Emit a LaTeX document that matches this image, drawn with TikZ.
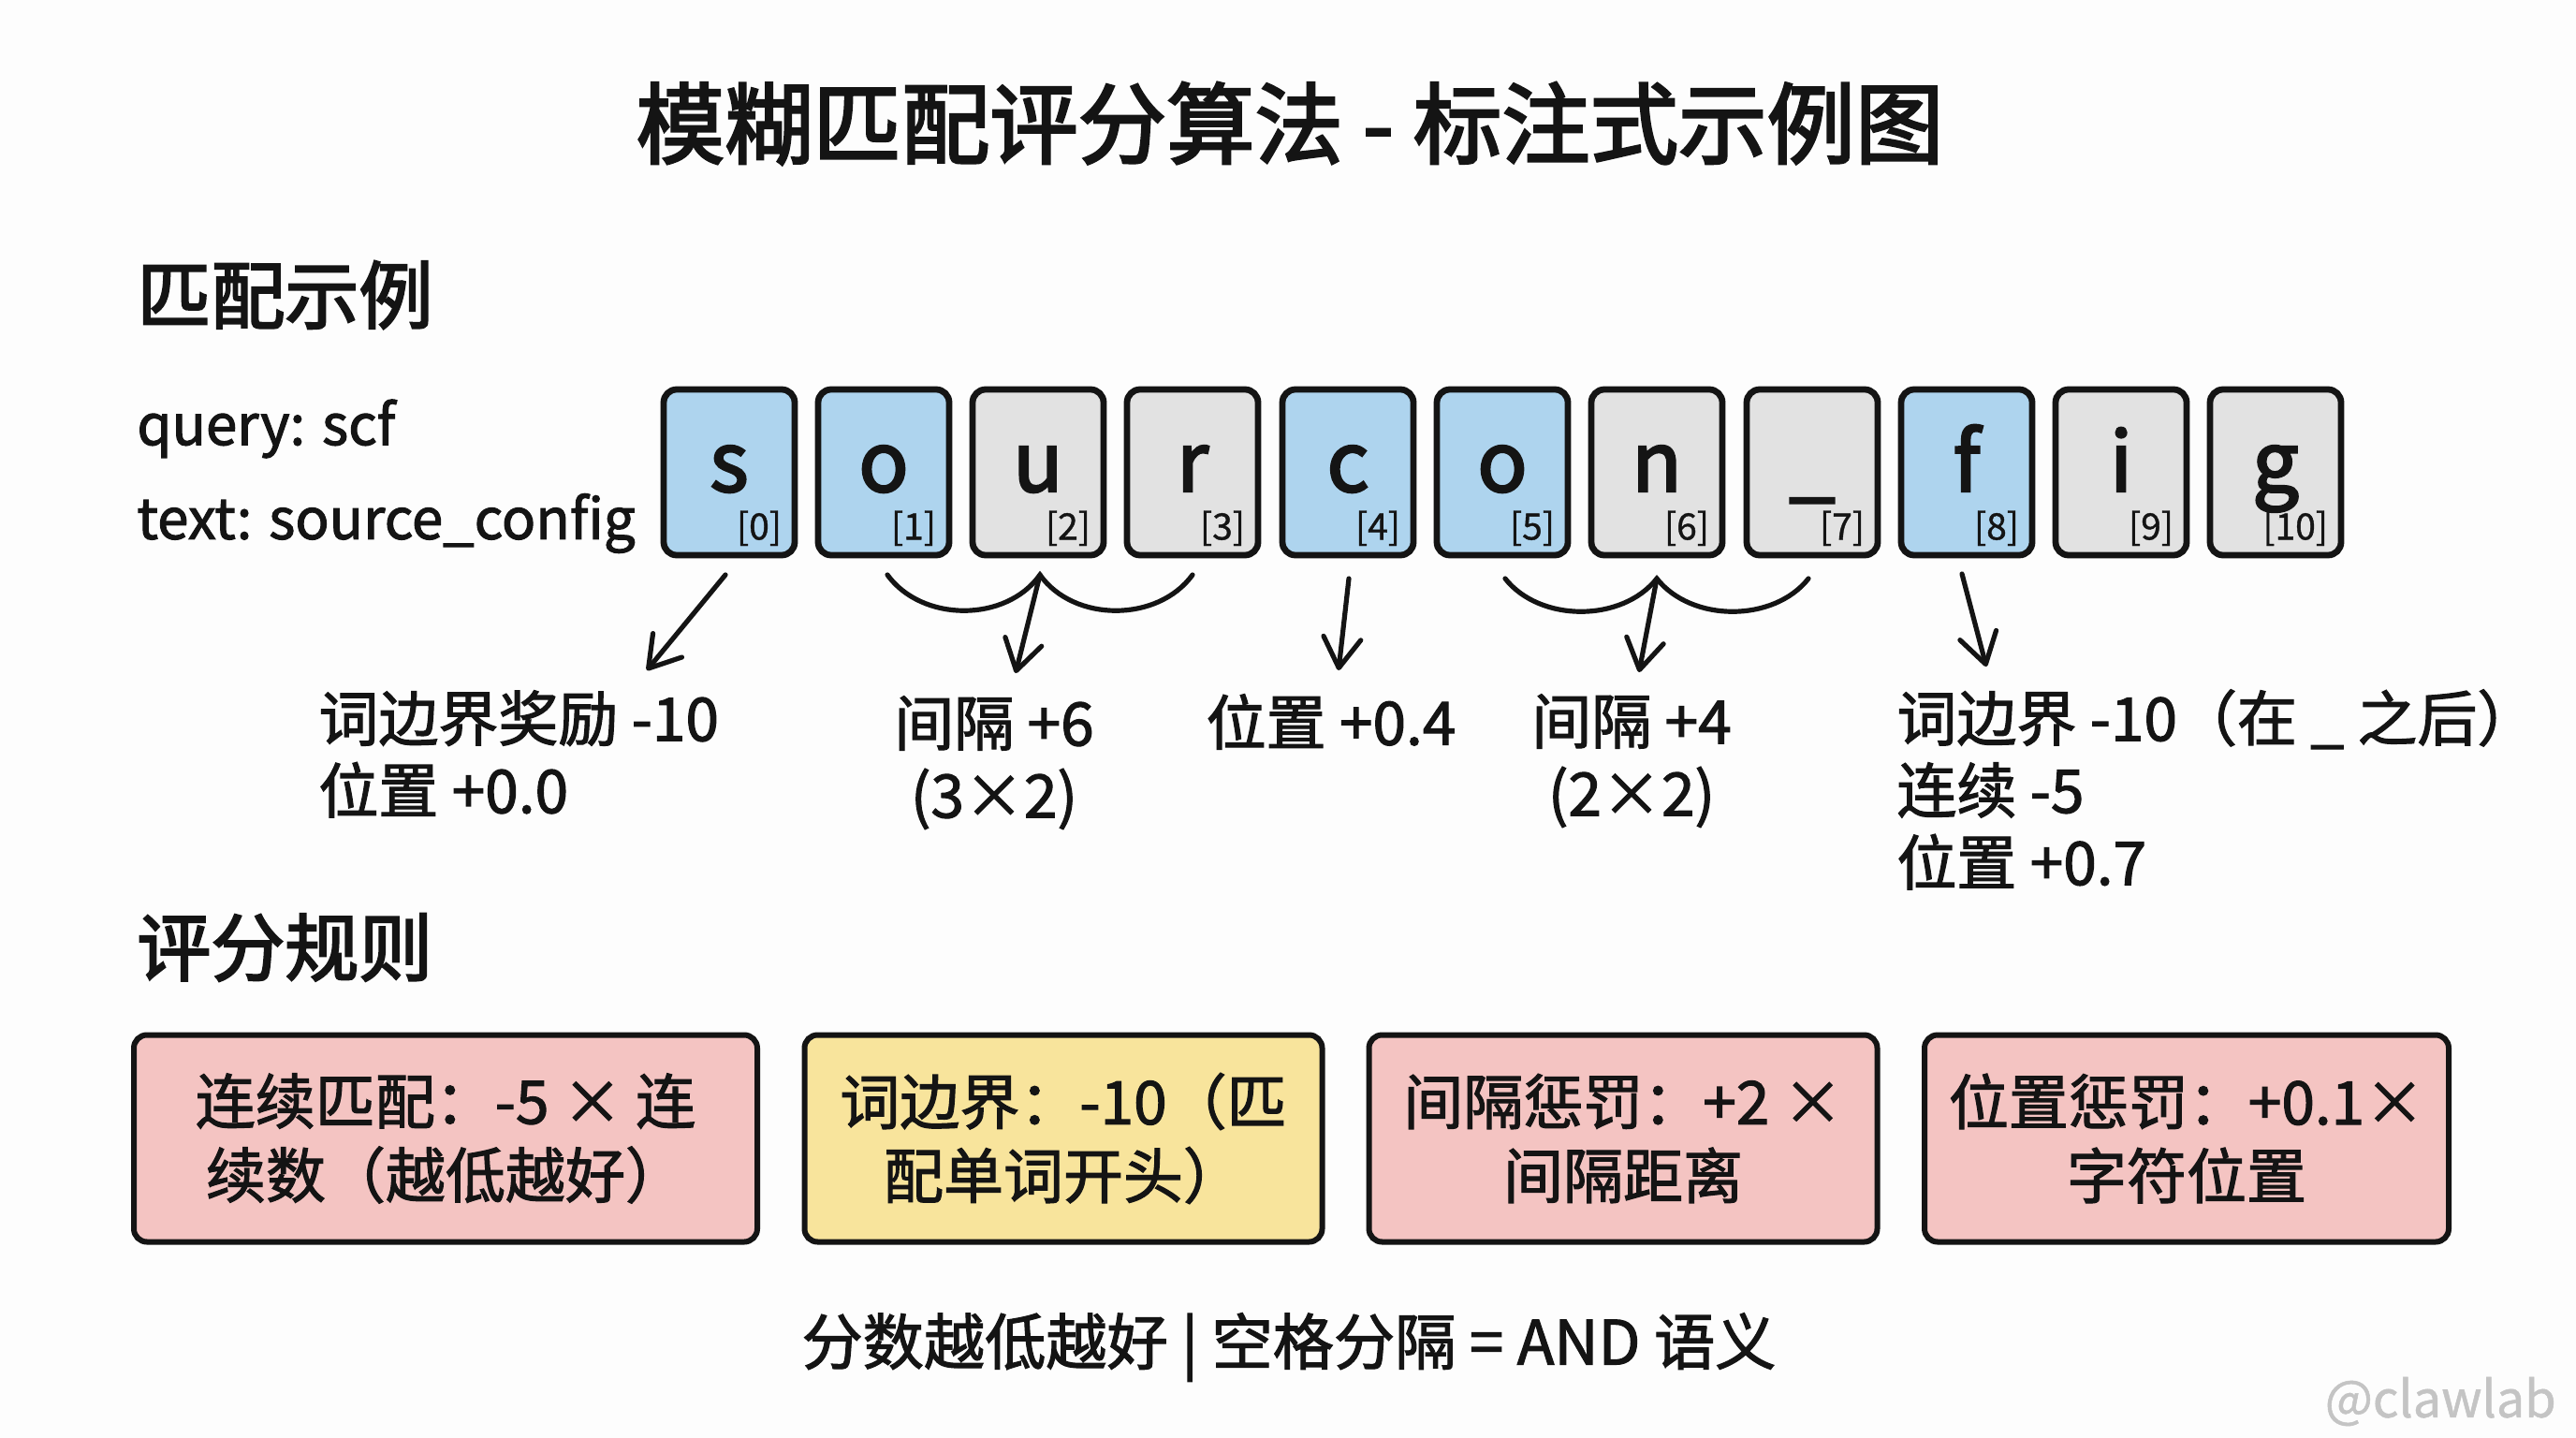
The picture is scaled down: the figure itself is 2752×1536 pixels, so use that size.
\documentclass[tikz,border=0pt]{standalone}
\usepackage{fontspec}
\usetikzlibrary{arrows.meta}
\setmainfont{Noto Sans CJK SC}[FakeBold=1.8]
\newfontfamily\titlefont{Noto Sans CJK SC}[FakeBold=2.8]
\newfontfamily\plainfont{Noto Sans CJK SC}[FakeBold=1.0]
\definecolor{bgc}{HTML}{FDFDFD}
\definecolor{inkc}{HTML}{141414}
\definecolor{bluec}{HTML}{AED4EE}
\definecolor{grayc}{HTML}{E2E2E2}
\definecolor{pinkc}{HTML}{F4C4C2}
\definecolor{yellowc}{HTML}{F8E49C}
\definecolor{markc}{HTML}{C4C4C4}
\tikzset{
  x=0.5pt,y=-0.5pt,
  txt/.style={inner sep=0pt,text=inkc},
  titletext/.style={txt,font=\titlefont\fontsize{47.2}{50}\selectfont},
  headtext/.style={txt,font=\titlefont\fontsize{39.5}{44}\selectfont},
  labeltext/.style={txt,font=\fontsize{32}{38.5}\selectfont,align=left},
  labelmid/.style={labeltext,align=center},
  querytext/.style={txt,font=\fontsize{30}{36}\selectfont},
  cell/.style={draw=inkc,line width=3.4pt,rounded corners=7pt,minimum width=70pt,minimum height=88.5pt,inner sep=0pt,text=inkc,
     font=\titlefont\fontsize{44}{50}\selectfont,text height=20.5pt,text depth=0pt},
  idx/.style={inner sep=0pt,text=inkc,font=\plainfont\fontsize{19.5}{20}\selectfont},
  rule/.style={draw=inkc,line width=3pt,rounded corners=7pt,minimum height=110.5pt,inner sep=0pt,text=inkc,align=center,
     font=\fontsize{32}{39.5}\selectfont},
  con/.style={draw=inkc,line width=2.6pt,line cap=round},
  arr/.style={con,-{Straight Barb[length=16pt,width=20pt,line width=2.6pt,round]}},
}
\begin{document}
\begin{tikzpicture}
\useasboundingbox[fill=bgc] (0,0) rectangle (2752,1536);
\node[titletext] (title) at (1378,132) {模糊匹配评分算法 - 标注式示例图};
\node[headtext,anchor=west] (h1) at (146,315) {匹配示例};
\node[querytext,anchor=west] (q) at (146,458) {query: scf};
\node[querytext,anchor=west] (t) at (146,559) {text: source\_config};
\foreach \cx/\ch/\col/\i in {779/s/bluec/0,944/o/bluec/1,1109/u/grayc/2,1274/r/grayc/3,1440/c/bluec/4,1605/o/bluec/5,1770/n/grayc/6,1936/\_/grayc/7,2101/f/bluec/8,2266/i/grayc/9,2431/g/grayc/10}{
  \node[cell,fill=\col] (c\i) at (\cx,504.5) {\ch};
  \node[idx,anchor=base east] (i\i) at ([xshift=-8.5pt,yshift=10pt]c\i.south east) {[\i]};
}
% connector ends
\coordinate (a0s) at (775,614); \coordinate (a0e) at (691,716);
\coordinate (l1) at (948,614); \coordinate (m1) at (1111,614); \coordinate (r1) at (1274,614); \coordinate (e1) at (1085,719);
\coordinate (a4s) at (1441,618); \coordinate (a4e) at (1430,716);
\coordinate (l2) at (1608,618); \coordinate (m2) at (1770,618); \coordinate (r2) at (1932,618); \coordinate (e2) at (1751,718);
\coordinate (a8s) at (2096,613); \coordinate (a8e) at (2122,712);
\draw[arr] (a0s) -- (a0e);
\draw[con] (l1) .. controls (985,665) and (1075,665) .. (m1) .. controls (1147,665) and (1237,665) .. (r1);
\draw[arr] (m1) -- (e1);
\draw[arr] (a4s) -- (a4e);
\draw[con] (l2) .. controls (1645,665) and (1733,665) .. (m2) .. controls (1807,665) and (1895,665) .. (r2);
\draw[arr] (m2) -- (e2);
\draw[arr] (a8s) -- (a8e);
% score labels
\node[labeltext,anchor=north west] (n0) at (340,737) {词边界奖励 -10\\位置 +0.0};
\node[labelmid,anchor=north] (n1) at (1062,743) {间隔 +6\\(3×2)};
\node[labelmid,anchor=north] (n4) at (1422,741) {位置 +0.4};
\node[labelmid,anchor=north] (n5) at (1743,741) {间隔 +4\\(2×2)};
\node[labeltext,anchor=north west] (n8) at (2026,736) {词边界 -10（在 \_ 之后）\\连续 -5\\位置 +0.7};
\node[headtext,anchor=west] (h2) at (146,1012) {评分规则};
\node[rule,fill=pinkc,minimum width=333pt] (b1) at (476,1216) {连续匹配：-5 × 连\\续数（越低越好）};
\node[rule,fill=yellowc,minimum width=276.5pt] (b2) at (1136,1216) {词边界：-10（匹\\配单词开头）};
\node[rule,fill=pinkc,minimum width=271.5pt] (b3) at (1734,1216) {间隔惩罚：+2 ×\\间隔距离};
\node[rule,fill=pinkc,minimum width=280pt] (b4) at (2336,1216) {位置惩罚：+0.1×\\字符位置};
\node[txt,font=\fontsize{32.6}{38}\selectfont] (foot) at (1377,1439) {分数越低越好 | 空格分隔 = AND 语义};
\node[inner sep=0pt,text=markc,anchor=east,font=\plainfont\fontsize{27}{32}\selectfont] (mark) at (2731,1497) {@clawlab};
\end{tikzpicture}
\end{document}
